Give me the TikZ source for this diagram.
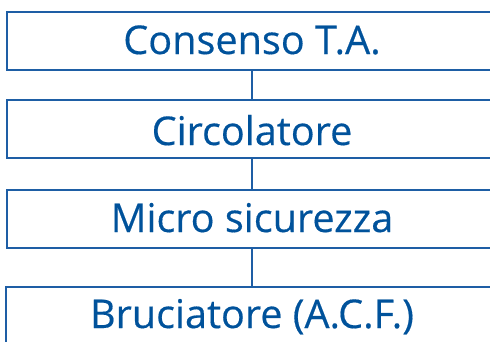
\documentclass[tikz,border=0pt]{standalone}
\usepackage{fontspec}
\setmainfont{Open Sans}
\newfontfamily\boxfont[FakeBold=0.4]{Open Sans}
\definecolor{txtblue}{RGB}{0,82,155}
\definecolor{lineblue}{RGB}{30,94,165}
\begin{document}
\begin{tikzpicture}[x=1bp,y=-1bp,
  flowbox/.style={draw=lineblue,line width=1.4bp,minimum width=490bp,minimum height=58bp,
    inner sep=0pt,text=txtblue,text height=26bp,text depth=0bp,
    font=\boxfont\fontsize{39.6bp}{44bp}\selectfont},
  link/.style={draw=lineblue,line width=1.4bp}]
\useasboundingbox (0,0) rectangle (490,341);
\node[flowbox] (a) at (252,41) {Consenso T.A.};
\node[flowbox,text height=32bp] (b) at (252,129) {Circolatore};
\node[flowbox] (c) at (252,219) {Micro sicurezza};
\node[flowbox,minimum width=492bp,text height=24bp] (d) at (252,316) {Bruciatore (A.C.F.)};
\draw[link] (a.south) -- (b.north);
\draw[link] (b.south) -- (c.north);
\draw[link] (c.south) -- (d.north);
\end{tikzpicture}
\end{document}
